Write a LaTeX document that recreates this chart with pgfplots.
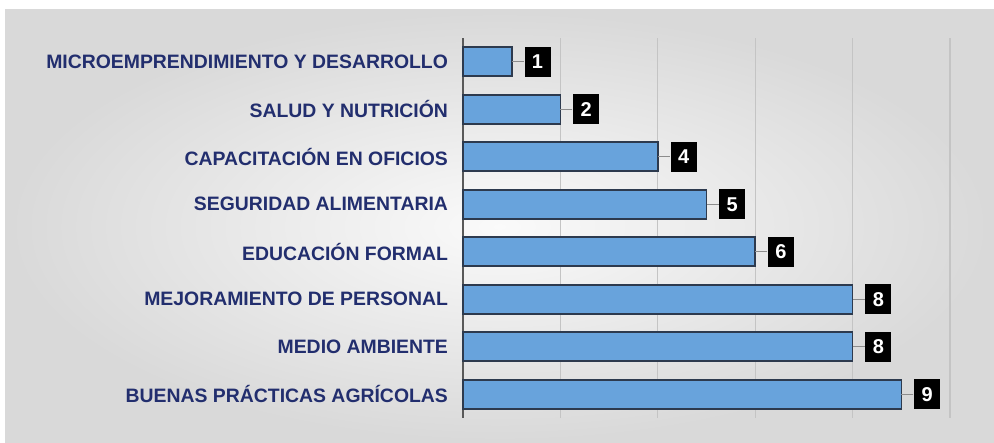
\documentclass[border=0pt]{standalone}
\usepackage{pgfplots}
\pgfplotsset{compat=1.18}
\usepackage{fontspec}
\setmainfont{Liberation Sans}
\definecolor{barblue}{RGB}{104,163,220}
\definecolor{baredge}{RGB}{45,58,78}
\definecolor{navy}{RGB}{34,46,110}
\definecolor{gridc}{RGB}{196,196,196}
\begin{document}
\begin{tikzpicture}[x=0.5pt,y=0.5pt]
\fill[white] (0,0) rectangle (994,443);
\shade[inner color=black!2, outer color=black!15] (5,0) rectangle (994,433);
\begin{axis}[
  at={(231.5pt,12.5pt)}, anchor=south west,
  scale only axis, width=243.5pt, height=190pt,
  xbar, bar width=14.5pt,
  xmin=0, xmax=10, ymin=-0.5, ymax=7.5,
  xtick={0,2,...,10}, xticklabels={},
  xmajorgrids, grid style={draw=gridc, line width=0.6pt},
  ytick={0,...,7},
  yticklabels={BUENAS PRÁCTICAS AGRÍCOLAS, MEDIO AMBIENTE, MEJORAMIENTO DE PERSONAL, EDUCACIÓN FORMAL, SEGURIDAD ALIMENTARIA, CAPACITACIÓN EN OFICIOS, SALUD Y NUTRICIÓN, MICROEMPRENDIMIENTO Y DESARROLLO},
  yticklabel style={font=\bfseries\fontsize{9.7}{10}\selectfont, text=navy, xshift=-4pt},
  major tick length=0pt,
  axis x line*=bottom,
  x axis line style={draw=none},
  axis y line*=left,
  y axis line style={draw=black!65, line width=0.8pt, -},
  /pgf/number format/assume math mode=true,
  nodes near coords,
  nodes near coords align={horizontal},
  nodes near coords style={fill=black, text=white, font=\bfseries\fontsize{10}{10}\selectfont, minimum width=13pt, minimum height=15pt, inner sep=0pt, anchor=west, xshift=6pt,
    append after command={(\tikzlastnode.west) edge[draw=black!45, line width=0.5pt] ++(-6pt,0pt)}},
  clip=false,
]
\addplot[fill=barblue, draw=baredge, line width=0.8pt] coordinates {
  (9,0) (8,1) (8,2) (6,3) (5,4) (4,5) (2,6) (1,7)
};
\end{axis}
\end{tikzpicture}
\end{document}
